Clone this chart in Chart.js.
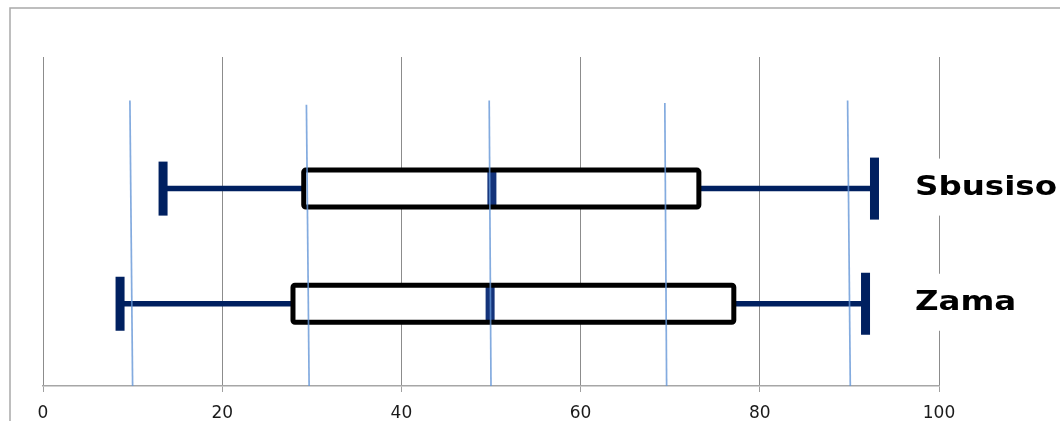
<!DOCTYPE html>
<html>
<head>
<meta charset="utf-8">
<script src="https://cdn.jsdelivr.net/npm/chart.js@4/dist/chart.umd.min.js"></script>
<style>
  html, body { margin: 0; padding: 0; background: #fff; }
  #wrap { width: 1060px; height: 421px; }
</style>
</head>
<body>
<div id="wrap"><canvas id="chart"></canvas></div>
<script>
// box plot stats, one entry per person
const names = ["Sbusiso", "Zama"];
const rows = [2.4, 1];
const mins = [13.4, 8.6];
const q1s = [29.1, 27.9];
const medians = [50.1, 49.9];
const q3s = [73.2, 77.1];
const maxs = [92.8, 91.8];

// x axis ticks
const xTicks = [0, 20, 40, 60, 80, 100];

// thin blue marker lines (top end, bottom end, how high they reach)
const markTop = [9.7, 29.4, 49.8, 69.4, 89.8];
const markBottom = [10, 29.7, 50, 69.6, 90.1];
const markReach = [3.47, 3.42, 3.47, 3.44, 3.47];

const navy = "#002060";

const markSets = markTop.map((t, i) => ({
  data: [{ x: markBottom[i], y: 0 }, { x: t, y: markReach[i] }],
  showLine: true,
  borderColor: "rgba(100, 150, 215, 0.8)",
  borderWidth: 1.7,
  pointRadius: 0,
  pointHoverRadius: 0,
}));

const boxPlugin = {
  id: "boxes",
  beforeDraw(chart) {
    // outer chart frame, only left and top show
    const ctx = chart.ctx;
    ctx.save();
    ctx.strokeStyle = "#a9a9a9";
    ctx.lineWidth = 1.5;
    ctx.beginPath();
    ctx.moveTo(10, chart.height);
    ctx.lineTo(10, 8);
    ctx.lineTo(chart.width, 8);
    ctx.stroke();
    ctx.restore();
  },
  beforeDatasetsDraw(chart) {
    const ctx = chart.ctx;
    const x = chart.scales.x;
    const y = chart.scales.y;
    ctx.save();
    names.forEach((n, i) => {
      const cy = y.getPixelForValue(rows[i]);
      const xMin = x.getPixelForValue(mins[i]);
      const xQ1 = x.getPixelForValue(q1s[i]);
      const xMed = x.getPixelForValue(medians[i]);
      const xQ3 = x.getPixelForValue(q3s[i]);
      const xMax = x.getPixelForValue(maxs[i]);
      // whiskers
      ctx.strokeStyle = navy;
      ctx.lineWidth = 5.5;
      ctx.beginPath();
      ctx.moveTo(xMin, cy);
      ctx.lineTo(xQ1, cy);
      ctx.moveTo(xQ3, cy);
      ctx.lineTo(xMax, cy);
      ctx.stroke();
      // caps
      ctx.fillStyle = navy;
      ctx.fillRect(xMin - 4.5, cy - 27, 9, 54);
      ctx.fillRect(xMax - 4.5, cy - 31, 9, 62);
      // box
      ctx.beginPath();
      ctx.roundRect(xQ1, cy - 18.5, xQ3 - xQ1, 37, 2);
      ctx.fillStyle = "#fff";
      ctx.fill();
      ctx.fillStyle = "#14337a";
      ctx.fillRect(xMed - 4.5, cy - 18.5, 9, 37);
      ctx.strokeStyle = "#000";
      ctx.lineWidth = 5;
      ctx.lineJoin = "round";
      ctx.stroke();
    });
    ctx.restore();
  },
  afterDatasetsDraw(chart) {
    const ctx = chart.ctx;
    const y = chart.scales.y;
    ctx.save();
    names.forEach((n, i) => {
      const cy = y.getPixelForValue(rows[i]);
      ctx.fillStyle = "#fff";
      ctx.fillRect(905, cy - 30, chart.width - 905, 57);
      ctx.translate(915, cy + 6);
      ctx.scale(1.25, 1);
      ctx.font = "bold 26px 'DejaVu Sans'";
      ctx.textBaseline = "alphabetic";
      ctx.fillStyle = "#000";
      ctx.fillText(n, 0, 0);
      ctx.setTransform(1, 0, 0, 1, 0, 0);
    });
    ctx.restore();
  },
};

const ctx = document.getElementById("chart").getContext("2d");
const myChart = new Chart(ctx, {
  type: "scatter",
  data: { datasets: markSets },
  plugins: [boxPlugin],
  options: {
    responsive: true,
    maintainAspectRatio: false,
    animation: false,
    layout: { padding: { top: 57, left: 43, right: 121, bottom: 0 } },
    plugins: {
      legend: { display: false },
      tooltip: { enabled: false },
    },
    scales: {
      x: {
        type: "linear",
        min: 0,
        max: 100,
        afterBuildTicks: (axis) => {
          axis.ticks = xTicks.map((v) => ({ value: v }));
        },
        afterFit: (axis) => {
          axis.height = 35;
        },
        grid: {
          color: "#8c8c8c",
          lineWidth: 1,
          drawTicks: true,
          tickLength: 6,
          tickColor: "#a0a0a0",
        },
        border: { color: "#a6a6a6", width: 1.5 },
        ticks: {
          padding: 11,
          color: "#1a1a1a",
          font: { family: "'DejaVu Sans'", size: 17 },
          maxRotation: 0,
        },
      },
      y: {
        type: "linear",
        display: false,
        min: 0,
        max: 4,
      },
    },
  },
});
</script>
</body>
</html>
